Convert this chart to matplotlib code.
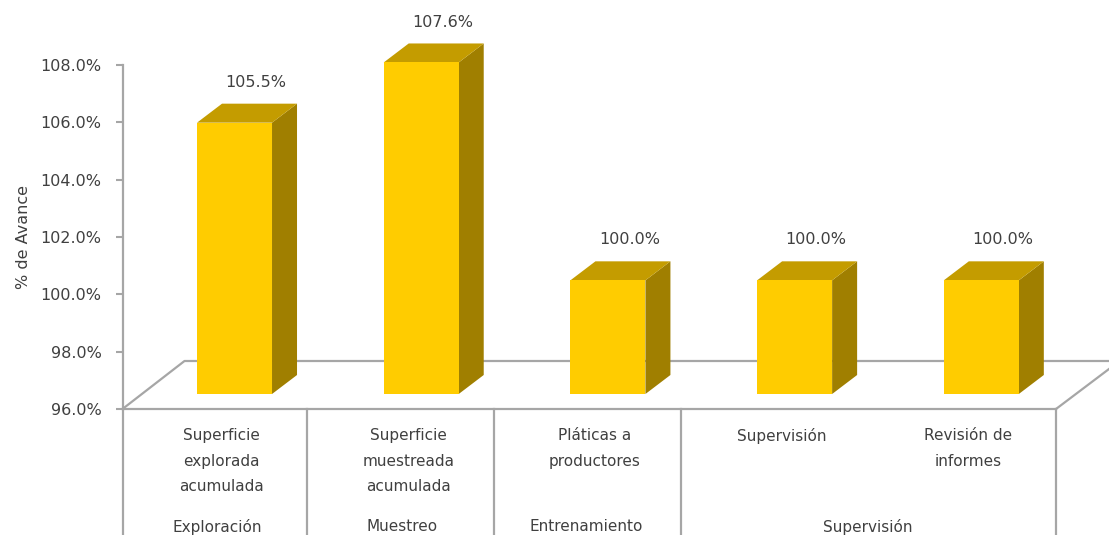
import numpy as np
import matplotlib
matplotlib.use('Agg')
import matplotlib.pyplot as plt
from matplotlib.patches import Polygon

plt.rcParams['font.family'] = ['DejaVu Sans']

categorias = ['Superficie\nexplorada\nacumulada', 'Superficie\nmuestreada\nacumulada',
              'Pláticas a\nproductores', 'Supervisión', 'Revisión de\ninformes']
avance = [105.5, 107.6, 100.0, 100.0, 100.0]
etiquetas = ['105.5%', '107.6%', '100.0%', '100.0%', '100.0%']
grupos = ['Exploración', 'Muestreo', 'Entrenamiento', 'Supervisión']
grupos_x = [0.507, 1.5, 2.485, 3.99]
separadores = [0.99, 1.99, 2.99]
ticks_y = [96, 98, 100, 102, 104, 106, 108]

AMARILLO = '#FFCC00'
LATERAL = '#A07F00'
TAPA = '#C49C00'
GRIS = '#A6A6A6'
TEXTO = '#404040'

fig = plt.figure(figsize=(11.09, 5.35), dpi=100)
ax = fig.add_axes([122.5 / 1109, (535 - 409) / 535, 933.5 / 1109, 344 / 535])
ax.set_xlim(0, 5)
ax.set_ylim(96, 108)

# profundidad del efecto 3D (unidades de datos)
px_x = 5 / 933.5
px_y = 12 / 344
dx, dy = 25 * px_x, 19 * px_y
alza = 14 * px_y
base = 96 + 15 * px_y
x = np.arange(5) + 0.6
ancho = 75 * px_x

# piso
ax.plot([0, 62 * px_x, 5.3], [96, 96 + 48 * px_y, 96 + 48 * px_y], color=GRIS, lw=1.6,
        clip_on=False, zorder=1)
ax.plot([5, 5 + 53 * px_x], [96, 96 + 40 * px_y], color=GRIS, lw=1.6, clip_on=False, zorder=1)

ax.bar(x, np.array(avance) + alza - base, bottom=base, width=ancho, color=AMARILLO,
       clip_on=False, zorder=3)
for xi, v in zip(x, avance):
    top = v + alza
    l, r = xi - ancho / 2, xi + ancho / 2
    ax.add_patch(Polygon([(r, base), (r + dx, base + dy), (r + dx, top + dy), (r, top)],
                         color=LATERAL, lw=0, clip_on=False, zorder=2))
    ax.add_patch(Polygon([(l, top), (l + dx, top + dy), (r + dx, top + dy), (r, top)],
                         color=TAPA, lw=0, clip_on=False, zorder=2))

ax.set_yticks(ticks_y)
ax.set_yticklabels(['%.1f%%' % t for t in ticks_y], fontsize=11.5, color=TEXTO)
ax.set_xticks([])
ax.tick_params(axis='y', color=GRIS, width=1.5, length=5, pad=10)
ax.spines[['top', 'right']].set_visible(False)
ax.spines[['left', 'bottom']].set_color(GRIS)
ax.spines[['left', 'bottom']].set_linewidth(1.6)
ax.patch.set_alpha(0)
ax.set_ylabel('% de Avance', fontsize=11.5, color=TEXTO, labelpad=7)

# etiquetas de valor
for xi, v, e in zip(x, avance, etiquetas):
    ax.annotate(e, (xi + 0.115, v + alza + dy), xytext=(0, 10), textcoords='offset points',
                ha='center', va='bottom', fontsize=11.5, color=TEXTO, annotation_clip=False)

# lineas y textos del eje de categorias
for s in [0] + separadores + [5]:
    ax.plot([s, s], [96, 96 - 130 * px_y], color=GRIS, lw=1.6, clip_on=False, zorder=1)
for xi, c in zip(x, categorias):
    ax.annotate(c, (xi - 0.07, 96), xytext=(0, -14), textcoords='offset points', ha='center',
                va='top', fontsize=11, color=TEXTO, linespacing=1.84, annotation_clip=False)
for gx, g in zip(grupos_x, grupos):
    ax.annotate(g, (gx, 96), xytext=(0, -79.5), textcoords='offset points', ha='center',
                va='top', fontsize=11, color=TEXTO, annotation_clip=False)

fig.savefig('out.png', dpi=100)
